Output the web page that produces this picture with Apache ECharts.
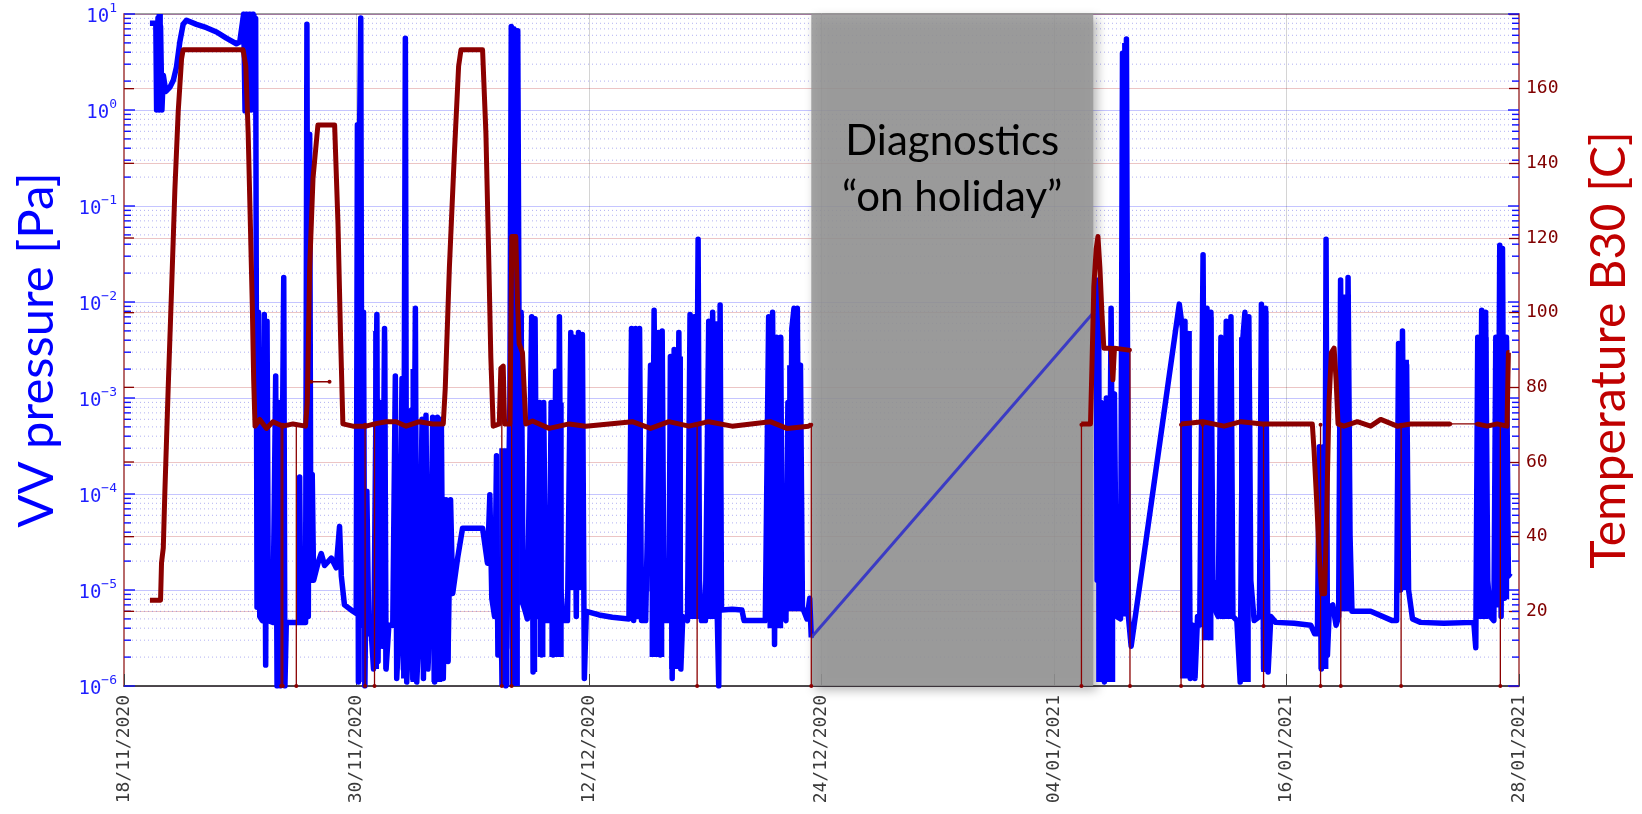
<!DOCTYPE html>
<html><head><meta charset="utf-8">
<script src="https://cdn.jsdelivr.net/npm/echarts@6/dist/echarts.min.js"></script>
<style>html,body{margin:0;padding:0;background:#fff}#c{width:1642px;height:814px}</style>
</head><body><div id="c"></div>
<script>
// x values: days since 18/11/2020 00:00
const xTickLabels = ['18/11/2020','30/11/2020','12/12/2020','24/12/2020','04/01/2021','16/01/2021','28/01/2021'];
const holiday = [34.98, 49.33];
const holidayText = 'Diagnostics\n\u201Con holiday\u201D';

// VV pressure [Pa]
const pressureBefore = [
[1.32,8],[1.62,8],[1.66,1.0],[1.73,9.1],[1.79,1.0],[1.86,7.4],[1.93,1.0],[2.0,2.3],[2.13,1.56],[2.34,1.73],[2.51,2.04],[2.67,2.8],[2.84,5.1],[3.01,7.8],[3.18,8.6],[3.69,7.8],[4.2,7.2],[4.71,6.5],[5.21,5.6],[5.72,4.9],[5.89,5.1],
[6.09,10],[6.16,0.98],[6.23,10],[6.3,2.0],[6.4,10],[6.47,1.0],[6.57,10],[6.64,1.0],[6.7,9],[6.77,6.6e-6],[6.84,7.8e-3],[6.91,5.3e-6],[7.04,4.8e-6],[7.14,7.4e-3],[7.21,1.65e-6],[7.28,6.3e-3],[7.35,4.8e-6],[7.58,4.6e-6],[7.72,1.7e-3],[7.79,1e-6],[7.89,9e-4],[7.96,1e-6],[8.13,1.8e-2],[8.19,1e-6],[8.26,4.6e-6],[8.9,4.6e-6],[8.94,1.5e-4],[9.0,4.6e-6],[9.24,4.6e-6],[9.31,7.8],[9.38,5.3e-6],[9.45,0.56],[9.51,1.26e-5],[9.58,1.6e-4],[9.65,1.26e-5],[9.87,1.9e-5],[10.04,2.4e-5],[10.21,1.8e-5],[10.55,2.15e-5],[10.8,1.7e-5],[10.97,4.6e-5],[11.06,1.4e-5],[11.22,7e-6],[11.65,6e-6],[11.82,5.7e-6],
[11.88,0.7],[11.93,1.1e-6],[11.99,0.56],[12.05,9.1],[12.12,4.3e-6],[12.19,7.8e-3],[12.26,1e-6],[12.36,1.07e-4],[12.46,3.5e-6],[12.56,4.3e-6],[12.7,1.5e-6],[12.87,7.4e-3],[12.93,1.8e-6],[13.04,9e-4],[13.14,2.6e-6],[13.26,5.3e-3],[13.34,1.5e-6],[13.48,4.3e-6],[13.68,4.3e-6],[13.81,1.7e-3],[13.88,1.2e-6],[14.02,4.8e-6],[14.15,1.6e-3],[14.22,1.5e-6],[14.32,5.6],[14.39,1.1e-6],[14.53,5.3e-6],[14.63,7.5e-4],[14.7,1.2e-6],[14.83,8.6e-3],[14.9,1.1e-6],[15.03,4.3e-6],[15.17,6e-4],[15.24,1.2e-6],[15.37,6.6e-4],[15.47,1.5e-6],[15.58,4.8e-6],[15.71,6.3e-4],[15.81,1.1e-6],[15.95,6.3e-4],[16.05,4.3e-6],[16.15,6e-4],[16.25,1.2e-6],[16.39,8.7e-5],[16.49,1.8e-6],[16.62,8.7e-5],[16.73,9.2e-6],[16.98,2.15e-5],[17.23,4.4e-5],[17.74,4.4e-5],[18.25,4.4e-5],[18.5,1.9e-5],[18.62,9.8e-5],[18.72,8.2e-6],[18.86,5.3e-6],[18.96,2.5e-4],[19.03,2.1e-6],[19.13,5.3e-6],[19.27,1.1e-6],[19.37,2.3e-4],[19.43,1e-6],[19.64,9e-4],[19.71,7.4],[19.77,2.5e-6],[19.84,7],[19.94,5.3e-6],[20.04,6.7],[20.15,3.7e-5],[20.21,7.8e-3],[20.32,7e-6],[20.42,6e-6],[20.53,5e-6],
[20.75,7e-3],[20.82,1.4e-6],[20.92,6.7e-3],[21.03,5.3e-6],[21.16,9e-4],[21.26,2.1e-6],[21.36,9e-4],[21.47,4.8e-6],[21.64,4.8e-6],[21.74,9e-4],[21.84,2.1e-6],[21.97,1.9e-3],[22.08,4.3e-6],[22.16,7e-3],[22.24,1e-5],[22.35,4.8e-6],[22.57,4.8e-6],[22.74,4.8e-3],[22.82,1.26e-5],[22.9,4.3e-3],[23.02,5.3e-6],[23.13,4.8e-3],[23.23,1.15e-5],[23.33,4.6e-3],[23.43,1.2e-6],[23.53,6e-6],[24.18,5.5e-6],[24.85,5.2e-6],[25.7,5e-6],
[25.83,5.3e-3],[25.94,4.8e-6],[26.04,5.3e-3],[26.14,5.3e-6],[26.24,5.3e-3],[26.34,4.8e-6],[26.55,4.8e-6],[26.8,2.2e-3],[26.88,1e-5],[26.98,8.2e-3],[27.09,1.26e-5],[27.19,4.8e-3],[27.29,2.1e-6],[27.39,5e-3],[27.49,4.8e-6],[27.73,4.8e-6],[27.81,2.7e-3],[27.9,1.2e-6],[28.0,3.2e-3],[28.1,4.3e-6],[28.24,4.8e-3],[28.34,1.5e-6],[28.44,5.3e-6],[28.68,4.8e-6],[28.81,7.4e-3],[28.91,1.26e-5],[29.02,7e-3],[29.12,3.7e-5],[29.22,4.5e-2],[29.29,1.26e-5],[29.39,4.8e-6],[29.59,4.8e-6],[29.76,6.3e-3],[29.86,5.3e-6],[29.96,7.8e-3],[30.07,1.4e-5],[30.2,4.8e-6],[30.27,1e-6],[30.34,9.3e-3],[30.41,6.2e-6],[30.95,6.3e-6],[31.45,6.2e-6],[31.56,4.8e-6],[32.64,4.8e-6],
[32.81,7e-3],[32.91,9.2e-6],[33.01,7.8e-3],[33.11,2.7e-6],[33.21,4.3e-3],[33.32,5.3e-6],[33.42,4.3e-3],[33.52,5.3e-6],[33.69,4.8e-6],[33.79,9e-4],[33.89,1.26e-5],[33.99,5.3e-3],[34.1,8.6e-3],[34.2,1.26e-5],[34.27,8.6e-3],[34.37,8.2e-6],[34.43,2.2e-3],[34.53,6.6e-6],[34.76,5e-6],[34.9,8.2e-6],[34.98,3.2e-6]
];
const pressureGap = [[34.98,3.2e-6],[49.4,8e-3]];
const pressureAfter = [
[49.48,1.8e-2],[49.53,1.26e-5],[49.6,1.4e-2],[49.67,1.65e-6],[49.73,9e-4],[49.8,1.5e-6],[49.9,1.1e-6],[50.0,1e-3],[50.11,1.5e-6],[50.24,8.6e-3],[50.34,5.3e-6],[50.41,1.1e-3],[50.51,5.3e-6],[50.72,5e-6],[50.82,3.9],[50.92,6.6e-6],[51.02,5.5],[51.12,5.3e-6],[51.26,2.6e-6],[53.71,9.5e-3],
[53.8,9.5e-3],[53.87,5.3e-3],[53.93,5.3e-6],[54.0,6.3e-3],[54.07,1.5e-6],[54.17,1.9e-3],[54.27,1.2e-6],[54.41,4.3e-6],[54.51,1.2e-6],[54.64,5.3e-6],[54.75,4.3e-6],[54.92,3.1e-2],[55.02,4.3e-6],[55.12,8.6e-3],[55.22,3.2e-6],[55.32,7.8e-3],[55.42,1.26e-5],[55.56,6e-6],[55.69,5.3e-6],[55.83,4.3e-3],[55.93,5.3e-6],[56.1,6.3e-3],[56.2,1e-5],[56.34,7e-3],[56.44,5.3e-6],[56.64,4.8e-6],[56.81,1.1e-6],[56.95,4.3e-3],[57.05,7.8e-3],[57.15,1.26e-5],[57.25,7e-3],[57.35,1.26e-5],[57.52,4.8e-6],[57.79,5.3e-6],[57.89,9.5e-3],[58.0,1.5e-6],[58.1,8.6e-3],[58.23,1.4e-6],[58.37,5.3e-6],[58.62,4.6e-6],[59.55,4.5e-6],[60.4,4.3e-6],[60.6,3.5e-6],[60.74,3.5e-6],[60.84,3.1e-4],[60.94,1.5e-6],[61.04,3.1e-4],[61.11,2e-6],[61.18,4.5e-2],[61.25,2.1e-6],[61.35,6.6e-6],[61.52,7e-6],[61.69,4.3e-6],[61.82,5.3e-6],[61.92,1.7e-2],[62.02,1.26e-5],[62.13,7.8e-3],[62.23,1.4e-5],[62.3,1.8e-2],[62.4,3.7e-5],[62.5,6e-6],[63.45,6e-6],[64.55,4.8e-6],[64.77,4.8e-6],[64.87,3.7e-3],[64.97,1e-5],[65.07,5e-3],[65.17,1.26e-5],[65.28,2.2e-3],[65.38,1e-5],[65.58,5e-6],[65.99,4.6e-6],[67.17,4.5e-6],[68.7,4.6e-6],[68.8,2.5e-6],[68.9,4.3e-3],[69.0,1.26e-5],[69.1,8.2e-3],[69.2,5.3e-6],[69.3,7.8e-3],[69.41,1.26e-5],[69.54,5.3e-6],[69.72,4.8e-6],[69.82,4.3e-3],[69.92,7e-6],[70.02,3.9e-2],[70.09,5.3e-6],[70.16,3.6e-2],[70.26,8.2e-6],[70.36,4.3e-3],[70.46,1.4e-5],[70.56,1.5e-5]
];
// envelope of densely oscillating stretches: [day start, Pa low, day end, Pa high]
const pressureBands = [
[1.66,1.0,1.98,10],[6.09,1.0,6.75,10],[7.1,1.7e-6,7.28,6e-3],[7.7,1e-6,7.82,1.7e-3],[7.87,1e-6,7.98,9e-4],[8.1,1e-6,8.2,1.5e-2],[9.27,5e-6,9.4,7.8],
[11.86,1.1e-6,12.1,0.7],[12.14,1e-6,12.3,7e-3],[12.68,1.5e-6,12.98,5e-3],[13.2,1.5e-6,13.4,4e-3],[13.78,1.2e-6,13.92,1.7e-3],[14.1,1.2e-6,14.34,1.5e-3],[14.58,1.1e-6,14.95,2e-3],[15.12,1.2e-6,15.37,6e-4],[15.65,1.1e-6,16.2,6e-4],[16.32,1.8e-6,16.62,8.7e-5],
[19.1,1e-6,19.6,3e-4],[19.62,1e-6,20.15,6.5],[20.11,7e-6,20.35,7.5e-3],[20.72,1.4e-6,21.03,6.5e-3],[21.05,2e-6,21.45,9e-4],[21.65,2e-6,22.38,9e-4],[22.62,1e-5,22.95,4.5e-3],[23.08,1e-5,23.42,4.6e-3],
[25.8,5e-6,26.36,5.3e-3],[26.75,2e-6,27.5,2.2e-3],[27.75,1.5e-6,28.45,2.7e-3],[28.7,5e-6,29.35,7e-3],[29.7,5e-6,30.4,6.3e-3],[32.75,4e-6,33.55,4.3e-3],[33.75,6e-6,34.55,2.2e-3],
[49.48,1.1e-6,50.45,9e-4],[50.8,5.3e-6,51.12,5],[53.75,1.2e-6,54.35,5e-3],[54.85,3e-6,55.45,7e-3],[55.78,5e-6,56.4,4.3e-3],[56.75,1.1e-6,57.35,4.3e-3],[57.88,1.4e-6,58.25,8e-3],[60.8,1.5e-6,61.3,3e-4],[61.88,6e-6,62.45,1.2e-2],[64.82,1e-5,65.4,2.5e-3],[68.8,5e-6,69.45,4.3e-3],[69.75,8e-6,70.5,4e-3]
];

// Temperature B30 [C]; null = gap in the record
const temperature = [
[1.32,23],[1.86,23],[1.91,33],[2.0,37],[2.08,52],[2.25,80],[2.42,106],[2.59,133],[2.76,154],[2.93,168],[3.01,170.4],[6.06,170.4],[6.2,166],[6.32,148],[6.43,124],[6.53,102],[6.6,82],[6.67,69.6],[6.91,71.4],[7.25,69],[7.58,70.8],[8.09,69.6],[8.6,70.2],[9.24,69.6],[9.33,76],[9.45,112],[9.62,136],[9.87,150.3],[10.72,150.3],[10.89,124],[11.02,94],[11.14,70.2],[11.65,69.6],[12.32,69.6],[12.75,70.2],[13.34,70.8],[13.85,70.8],[14.36,69.6],[15.03,70.8],[15.71,70.2],[16.25,70.2],[16.35,79.7],[16.56,112],[16.81,142],[17.03,166],[17.15,170.4],[18.25,170.4],[18.42,148],[18.55,118],[18.67,88],[18.79,69.6],[19.1,70.2],[19.18,85.1],[19.3,85.7],[19.37,70.2],[19.64,70.2],[19.74,120.4],[19.94,120.4],[20.03,102.4],[20.11,91.7],[20.28,89.3],[20.45,70.2],[20.79,71],[21.64,69],[22.65,70.2],[23.5,69.6],[25.87,70.8],[26.8,69],[27.73,70.8],[28.75,69.6],[29.76,70.8],[30.95,69.6],[32.89,70.8],[33.74,69],[34.84,69.6],[34.98,70],
null,
[48.72,70.2],[49.19,70.2],[49.26,84.5],[49.36,107],[49.48,117],[49.57,120.4],[49.67,112],[49.77,100],[49.87,90.5],[50.24,90.5],[50.33,82],[50.41,90.5],[51.22,89.9],
null,
[53.8,70.2],[54.9,70.8],[56.0,69.6],[56.85,70.8],[57.95,70.2],[59.38,70.2],[60.48,70.2],[60.57,63],[60.7,49.8],[60.84,34.3],[60.96,24.7],[61.11,24.7],[61.21,46],[61.33,76],[61.45,89.3],[61.59,90.5],[61.69,82],[61.79,70.2],[62.09,69.6],[62.77,70.8],[63.45,69.6],[63.96,71.4],[64.8,69.6],[65.48,70.2],[67.51,70.2],
null,
[68.86,70.2],[69.38,69.6],[69.89,70.2],[70.39,69.6],[70.46,89.3],[70.51,89.3]
];
// sparse samples: drops of the reading to 0 [day, level before drop]
const temperatureDrops = [[8.0,70],[8.08,70],[8.77,70],[12.27,70],[12.75,70],[19.23,85],[19.73,120],[29.17,70],[34.98,70],[48.73,70],[51.2,90],[53.8,70],[54.9,70],[58.0,70],[60.9,70],[61.93,70],[65.0,70],[70.05,70]];
const temperatureSparse = [[[9.53,81.5],[10.46,81.5]],[[67.51,70.2],[68.86,70.2]]];

const HOURS = 24;
const xy = a => a.map((p, i) => p === null ? [a[i - 1][0] * HOURS, '-'] : [p[0] * HOURS, p[1]]);
const thinData = [];
temperatureDrops.forEach(([d, t]) => { thinData.push([d * HOURS, t], [d * HOURS, 0], [d * HOURS, '-']); });
temperatureSparse.forEach(seg => { seg.forEach(([d, t]) => thinData.push([d * HOURS, t])); thinData.push([seg[1][0] * HOURS, '-']); });

// log-axis minor grid positions (axis decoration)
const logDecor = [];
for (let e = -6; e <= 0; e++) for (let m = 1; m <= 9; m++) logDecor.push([0, m * Math.pow(10, e), m === 1 ? 1 : 0]);
logDecor.push([0, 10, 1]);
const tempDecor = [20, 40, 60, 80, 100, 120, 140, 160].map(t => [0, t]);

const BLUE = '#0000ff', RED = '#8b0000';
const mono = 'DejaVu Sans Mono';

const chart = echarts.init(document.getElementById('c'));
chart.setOption({
  animation: false,
  backgroundColor: '#fff',
  grid: { left: 124, right: 120, top: 14, bottom: 128, show: true, borderColor: '#404040', borderWidth: 1 },
  xAxis: {
    type: 'value', min: 0, max: 71 * HOURS, interval: 284,
    axisLine: { lineStyle: { color: '#303030', width: 1.5 } },
    axisTick: { inside: true, length: 12, lineStyle: { color: '#404040' } },
    splitLine: { show: true, lineStyle: { color: 'rgba(0,0,0,0.17)', width: 1 } },
    axisLabel: { rotate: 90, margin: 9, fontFamily: mono, fontSize: 18, color: '#3a3a3a',
      showMinLabel: true, showMaxLabel: true,
      formatter: v => xTickLabels[Math.round(v / 284)] }
  },
  yAxis: [{
    type: 'log', logBase: 10, min: 1e-6, max: 10, position: 'left',
    name: 'VV pressure [Pa]', nameLocation: 'middle', nameGap: 62,
    nameTextStyle: { fontFamily: 'Lato', fontSize: 49, color: BLUE },
    axisLine: { show: true, lineStyle: { color: '#b86a6a', width: 2 } },
    axisTick: { show: false },
    splitLine: { show: true, lineStyle: { color: 'rgba(110,110,255,0.4)', width: 1 } },
    axisLabel: { margin: 7,
      formatter: v => { const e = Math.round(Math.log10(v)); return '{b|10}{s|' + (e < 0 ? '\u2212' + (-e) : e) + '}'; },
      rich: {
        b: { fontFamily: mono, fontSize: 19, color: '#1f1fff', lineHeight: 22, padding: [6, 0, 0, 0], verticalAlign: 'top' },
        s: { fontFamily: mono, fontSize: 13, color: '#1f1fff', lineHeight: 24, verticalAlign: 'top' }
      } }
  }, {
    type: 'value', min: 0, max: 180, interval: 20, position: 'right',
    name: 'Temperature B30 [C]', nameLocation: 'middle', nameGap: 67,
    nameTextStyle: { fontFamily: 'Lato', fontSize: 48, color: '#c00000' },
    axisLine: { show: true, lineStyle: { color: '#b86a6a', width: 2 } },
    axisTick: { show: true, inside: true, length: 10, lineStyle: { color: RED, width: 1.3 } },
    splitLine: { show: true, lineStyle: { color: 'rgba(200,90,90,0.35)', width: 1 } },
    axisLabel: { margin: 7, fontFamily: mono, fontSize: 18, color: '#800000',
      formatter: v => (v === 0 || v === 180) ? '' : String(v) }
  }],
  series: [
    { type: 'custom', yAxisIndex: 0, z: 1, silent: true, clip: false, data: logDecor, encode: { x: 0, y: 1 },
      renderItem: (params, api) => {
        const cs = params.coordSys, y = api.coord([0, api.value(1)])[1];
        const major = api.value(2) === 1, x0 = cs.x, x1 = cs.x + cs.width, len = major ? 11 : 7;
        const ch = [];
        if (!major) ch.push({ type: 'line', shape: { x1: x0, y1: y, x2: x1, y2: y }, style: { stroke: 'rgba(100,100,230,0.5)', lineWidth: 1, lineDash: [1, 3] } });
        ch.push({ type: 'line', shape: { x1: x0, y1: y, x2: x0 + len, y2: y }, style: { stroke: '#1010ff', lineWidth: 1.4 } });
        ch.push({ type: 'line', shape: { x1: x1 - len, y1: y, x2: x1, y2: y }, style: { stroke: '#1010ff', lineWidth: 1.4 } });
        return { type: 'group', children: ch };
      } },
    { type: 'custom', yAxisIndex: 1, z: 1, silent: true, clip: false, data: tempDecor, encode: { x: 0, y: 1 },
      renderItem: (params, api) => {
        const cs = params.coordSys, y = api.coord([0, api.value(1)])[1];
        return { type: 'line', shape: { x1: cs.x, y1: y, x2: cs.x + 10, y2: y }, style: { stroke: RED, lineWidth: 1.3 } };
      } },
    { type: 'line', z: 2, data: [], silent: true,
      markArea: { silent: true, z: 2,
        itemStyle: { color: 'rgba(150,150,150,0.86)', shadowBlur: 10, shadowOffsetX: 4, shadowOffsetY: 4, shadowColor: 'rgba(0,0,0,0.35)' },
        label: { show: true, position: 'insideTop', offset: [0, 94], formatter: holidayText,
          fontFamily: 'Lato', fontSize: 42, lineHeight: 56, color: '#000', align: 'center' },
        data: [[{ xAxis: holiday[0] * HOURS }, { xAxis: holiday[1] * HOURS }]] } },
    { name: 'VV pressure', type: 'line', yAxisIndex: 0, z: 3, silent: true, showSymbol: false, data: xy(pressureBefore),
      lineStyle: { color: BLUE, width: 5.5, join: 'round' } },
    { name: 'VV pressure', type: 'line', yAxisIndex: 0, z: 3, silent: true, showSymbol: false, data: xy(pressureAfter),
      lineStyle: { color: BLUE, width: 5.5, join: 'round' } },
    { name: 'VV pressure gap', type: 'line', yAxisIndex: 0, z: 4, silent: true, showSymbol: false, data: xy(pressureGap),
      lineStyle: { color: '#3b3bc4', width: 3 } },
    { name: 'Temperature', type: 'line', yAxisIndex: 1, z: 5, silent: true, showSymbol: false, connectNulls: false, data: xy(temperature),
      lineStyle: { color: RED, width: 5, join: 'round' } },
    { name: 'Temperature sparse', type: 'line', yAxisIndex: 1, z: 5, silent: true, showSymbol: true, symbol: 'circle', symbolSize: 4,
      connectNulls: false, data: thinData, itemStyle: { color: RED }, lineStyle: { color: RED, width: 1.3 } }
  ]
});

// dense-oscillation envelopes, positioned through the pressure series' own axes
const finder = { xAxisIndex: 0, yAxisIndex: 0 };
const bandRects = pressureBands.map(b => {
  const p0 = chart.convertToPixel(finder, [b[0] * HOURS, b[3]]);
  const p1 = chart.convertToPixel(finder, [b[2] * HOURS, b[1]]);
  return { type: 'rect', silent: true, z: 3, zlevel: 0,
    shape: { x: p0[0], y: p0[1], width: p1[0] - p0[0], height: p1[1] - p0[1] },
    style: { fill: BLUE } };
});
chart.setOption({ graphic: { elements: bandRects } });
</script></body></html>
